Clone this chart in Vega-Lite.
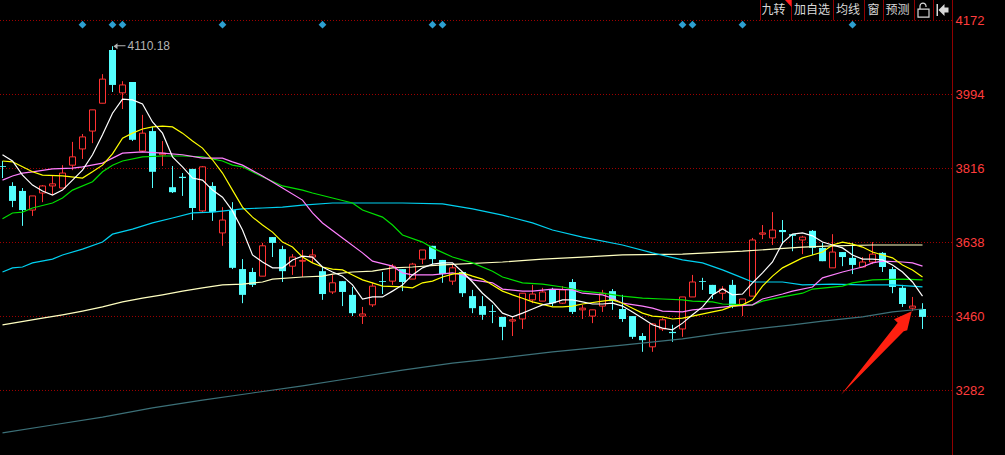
{"$schema":"https://vega.github.io/schema/vega-lite/v6.json","width":1005,"height":455,"padding":0,"autosize":"none","background":"#000000","config":{"view":{"stroke":null},"font":"Liberation Sans","scale":{"continuousPadding":0}},"resolve":{"axis":{"y":"independent"}},
"datasets":{
"candles":[{"i":0,"o":3822,"c":3820,"h":3834,"l":3793},{"i":1,"o":3774,"c":3738,"h":3783,"l":3723},{"i":2,"o":3762,"c":3716,"h":3769,"l":3678},{"i":3,"o":3716,"c":3750,"h":3750,"l":3702},{"i":4,"o":3757,"c":3774,"h":3776,"l":3735},{"i":5,"o":3774,"c":3779,"h":3798,"l":3752},{"i":6,"o":3769,"c":3805,"h":3824,"l":3769},{"i":7,"o":3824,"c":3844,"h":3880,"l":3812},{"i":8,"o":3863,"c":3892,"h":3899,"l":3839},{"i":9,"o":3906,"c":3957,"h":3957,"l":3877},{"i":10,"o":3973,"c":4031,"h":4043,"l":3973},{"i":11,"o":4101,"c":4017,"h":4110.18,"l":4000},{"i":12,"o":3998,"c":4017,"h":4026,"l":3959},{"i":13,"o":4024,"c":3885,"h":4024,"l":3882},{"i":14,"o":3858,"c":3901,"h":3945,"l":3856},{"i":15,"o":3906,"c":3808,"h":3916,"l":3769},{"i":16,"o":3849,"c":3853,"h":3882,"l":3822},{"i":17,"o":3771,"c":3759,"h":3822,"l":3757},{"i":18,"o":3796,"c":3793,"h":3805,"l":3750},{"i":19,"o":3815,"c":3721,"h":3815,"l":3692},{"i":20,"o":3714,"c":3820,"h":3822,"l":3711},{"i":21,"o":3774,"c":3711,"h":3783,"l":3690},{"i":22,"o":3661,"c":3692,"h":3723,"l":3630},{"i":23,"o":3716,"c":3577,"h":3735,"l":3574},{"i":24,"o":3574,"c":3512,"h":3598,"l":3492},{"i":25,"o":3567,"c":3536,"h":3577,"l":3531},{"i":26,"o":3557,"c":3630,"h":3637,"l":3557},{"i":27,"o":3651,"c":3637,"h":3651,"l":3603},{"i":28,"o":3622,"c":3569,"h":3630,"l":3543},{"i":29,"o":3581,"c":3603,"h":3610,"l":3560},{"i":30,"o":3593,"c":3595,"h":3620,"l":3555},{"i":31,"o":3603,"c":3608,"h":3622,"l":3589},{"i":32,"o":3569,"c":3514,"h":3579,"l":3500},{"i":33,"o":3519,"c":3541,"h":3560,"l":3514},{"i":34,"o":3545,"c":3519,"h":3545,"l":3485},{"i":35,"o":3512,"c":3468,"h":3531,"l":3461},{"i":36,"o":3461,"c":3466,"h":3483,"l":3442},{"i":37,"o":3488,"c":3533,"h":3541,"l":3483},{"i":38,"o":3545,"c":3543,"h":3567,"l":3514},{"i":39,"o":3545,"c":3581,"h":3586,"l":3536},{"i":40,"o":3574,"c":3543,"h":3574,"l":3521},{"i":41,"o":3550,"c":3586,"h":3589,"l":3550},{"i":42,"o":3598,"c":3620,"h":3620,"l":3586},{"i":43,"o":3630,"c":3598,"h":3630,"l":3586},{"i":44,"o":3596,"c":3562,"h":3596,"l":3541},{"i":45,"o":3545,"c":3577,"h":3586,"l":3536},{"i":46,"o":3567,"c":3516,"h":3567,"l":3507},{"i":47,"o":3509,"c":3480,"h":3524,"l":3468},{"i":48,"o":3485,"c":3464,"h":3509,"l":3452},{"i":49,"o":3473,"c":3471,"h":3488,"l":3444},{"i":50,"o":3459,"c":3435,"h":3459,"l":3403},{"i":51,"o":3449,"c":3452,"h":3461,"l":3413},{"i":52,"o":3454,"c":3516,"h":3516,"l":3430},{"i":53,"o":3500,"c":3514,"h":3536,"l":3492},{"i":54,"o":3497,"c":3519,"h":3529,"l":3497},{"i":55,"o":3526,"c":3492,"h":3529,"l":3485},{"i":56,"o":3492,"c":3524,"h":3533,"l":3490},{"i":57,"o":3543,"c":3471,"h":3550,"l":3466},{"i":58,"o":3476,"c":3480,"h":3488,"l":3454},{"i":59,"o":3461,"c":3476,"h":3476,"l":3444},{"i":60,"o":3485,"c":3516,"h":3524,"l":3471},{"i":61,"o":3521,"c":3497,"h":3526,"l":3476},{"i":62,"o":3478,"c":3454,"h":3512,"l":3447},{"i":63,"o":3461,"c":3411,"h":3461,"l":3406},{"i":64,"o":3413,"c":3403,"h":3420,"l":3375},{"i":65,"o":3387,"c":3442,"h":3444,"l":3375},{"i":66,"o":3430,"c":3452,"h":3456,"l":3425},{"i":67,"o":3423,"c":3420,"h":3440,"l":3399},{"i":68,"o":3430,"c":3507,"h":3507,"l":3411},{"i":69,"o":3507,"c":3543,"h":3560,"l":3507},{"i":70,"o":3545,"c":3543,"h":3553,"l":3524},{"i":71,"o":3536,"c":3514,"h":3536,"l":3502},{"i":72,"o":3516,"c":3526,"h":3533,"l":3500},{"i":73,"o":3536,"c":3485,"h":3548,"l":3480},{"i":74,"o":3488,"c":3502,"h":3502,"l":3461},{"i":75,"o":3509,"c":3644,"h":3649,"l":3509},{"i":76,"o":3658,"c":3661,"h":3680,"l":3646},{"i":77,"o":3649,"c":3668,"h":3711,"l":3632},{"i":78,"o":3668,"c":3663,"h":3692,"l":3634},{"i":79,"o":3658,"c":3654,"h":3658,"l":3617},{"i":80,"o":3644,"c":3651,"h":3654,"l":3610},{"i":81,"o":3666,"c":3625,"h":3668,"l":3608},{"i":82,"o":3625,"c":3593,"h":3637,"l":3593},{"i":83,"o":3577,"c":3615,"h":3658,"l":3577},{"i":84,"o":3615,"c":3603,"h":3615,"l":3581},{"i":85,"o":3601,"c":3584,"h":3637,"l":3562},{"i":86,"o":3579,"c":3591,"h":3603,"l":3579},{"i":87,"o":3591,"c":3610,"h":3639,"l":3586},{"i":88,"o":3613,"c":3579,"h":3615,"l":3567},{"i":89,"o":3574,"c":3531,"h":3579,"l":3516},{"i":90,"o":3529,"c":3490,"h":3536,"l":3483},{"i":91,"o":3480,"c":3485,"h":3507,"l":3473},{"i":92,"o":3478,"c":3459,"h":3492,"l":3430}],
"ma5":[{"i":0,"p":3849},{"i":1,"p":3834},{"i":2,"p":3800},{"i":3,"p":3776},{"i":4,"p":3762},{"i":5,"p":3752},{"i":6,"p":3764},{"i":7,"p":3788},{"i":8,"p":3812},{"i":9,"p":3849},{"i":10,"p":3897},{"i":11,"p":3949},{"i":12,"p":3983},{"i":13,"p":3981},{"i":14,"p":3971},{"i":15,"p":3928},{"i":16,"p":3901},{"i":17,"p":3844},{"i":18,"p":3820},{"i":19,"p":3793},{"i":20,"p":3788},{"i":21,"p":3764},{"i":22,"p":3747},{"i":23,"p":3714},{"i":24,"p":3668},{"i":25,"p":3608},{"i":26,"p":3591},{"i":27,"p":3577},{"i":28,"p":3577},{"i":29,"p":3596},{"i":30,"p":3605},{"i":31,"p":3603},{"i":32,"p":3579},{"i":33,"p":3567},{"i":34,"p":3557},{"i":35,"p":3536},{"i":36,"p":3502},{"i":37,"p":3507},{"i":38,"p":3507},{"i":39,"p":3521},{"i":40,"p":3536},{"i":41,"p":3560},{"i":42,"p":3577},{"i":43,"p":3586},{"i":44,"p":3589},{"i":45,"p":3589},{"i":46,"p":3567},{"i":47,"p":3543},{"i":48,"p":3516},{"i":49,"p":3495},{"i":50,"p":3468},{"i":51,"p":3459},{"i":52,"p":3468},{"i":53,"p":3478},{"i":54,"p":3488},{"i":55,"p":3492},{"i":56,"p":3500},{"i":57,"p":3500},{"i":58,"p":3495},{"i":59,"p":3490},{"i":60,"p":3490},{"i":61,"p":3492},{"i":62,"p":3485},{"i":63,"p":3471},{"i":64,"p":3456},{"i":65,"p":3440},{"i":66,"p":3432},{"i":67,"p":3428},{"i":68,"p":3444},{"i":69,"p":3464},{"i":70,"p":3483},{"i":71,"p":3512},{"i":72,"p":3526},{"i":73,"p":3512},{"i":74,"p":3514},{"i":75,"p":3541},{"i":76,"p":3565},{"i":77,"p":3591},{"i":78,"p":3637},{"i":79,"p":3658},{"i":80,"p":3661},{"i":81,"p":3654},{"i":82,"p":3639},{"i":83,"p":3632},{"i":84,"p":3625},{"i":85,"p":3608},{"i":86,"p":3598},{"i":87,"p":3598},{"i":88,"p":3596},{"i":89,"p":3584},{"i":90,"p":3567},{"i":91,"p":3543},{"i":92,"p":3509}],
"ma10":[{"i":0,"p":3834},{"i":1,"p":3832},{"i":2,"p":3820},{"i":3,"p":3808},{"i":4,"p":3800},{"i":6,"p":3798},{"i":8,"p":3793},{"i":9,"p":3808},{"i":10,"p":3824},{"i":11,"p":3851},{"i":12,"p":3889},{"i":13,"p":3901},{"i":14,"p":3911},{"i":15,"p":3916},{"i":16,"p":3918},{"i":17,"p":3916},{"i":18,"p":3901},{"i":19,"p":3882},{"i":20,"p":3865},{"i":21,"p":3837},{"i":22,"p":3805},{"i":23,"p":3764},{"i":24,"p":3723},{"i":25,"p":3699},{"i":26,"p":3680},{"i":27,"p":3663},{"i":28,"p":3639},{"i":29,"p":3627},{"i":30,"p":3603},{"i":31,"p":3589},{"i":32,"p":3579},{"i":33,"p":3574},{"i":34,"p":3572},{"i":35,"p":3560},{"i":36,"p":3548},{"i":37,"p":3541},{"i":38,"p":3533},{"i":40,"p":3531},{"i":41,"p":3529},{"i":42,"p":3541},{"i":43,"p":3545},{"i":44,"p":3555},{"i":45,"p":3562},{"i":46,"p":3565},{"i":47,"p":3557},{"i":48,"p":3550},{"i":49,"p":3536},{"i":50,"p":3521},{"i":51,"p":3512},{"i":52,"p":3504},{"i":53,"p":3495},{"i":55,"p":3483},{"i":56,"p":3483},{"i":57,"p":3485},{"i":58,"p":3490},{"i":60,"p":3497},{"i":61,"p":3500},{"i":62,"p":3492},{"i":63,"p":3480},{"i":64,"p":3468},{"i":65,"p":3461},{"i":66,"p":3459},{"i":67,"p":3454},{"i":68,"p":3456},{"i":69,"p":3461},{"i":71,"p":3471},{"i":72,"p":3476},{"i":73,"p":3485},{"i":74,"p":3488},{"i":75,"p":3500},{"i":76,"p":3533},{"i":77,"p":3557},{"i":78,"p":3577},{"i":79,"p":3589},{"i":80,"p":3601},{"i":81,"p":3608},{"i":82,"p":3615},{"i":83,"p":3632},{"i":84,"p":3639},{"i":85,"p":3634},{"i":86,"p":3627},{"i":87,"p":3615},{"i":88,"p":3608},{"i":89,"p":3601},{"i":90,"p":3584},{"i":91,"p":3572},{"i":92,"p":3555}],
"ma20":[{"i":0,"p":3788},{"i":1,"p":3798},{"i":2,"p":3805},{"i":3,"p":3808},{"i":5,"p":3815},{"i":7,"p":3817},{"i":8,"p":3820},{"i":10,"p":3829},{"i":11,"p":3841},{"i":12,"p":3853},{"i":14,"p":3856},{"i":16,"p":3853},{"i":18,"p":3849},{"i":20,"p":3841},{"i":22,"p":3841},{"i":23,"p":3832},{"i":24,"p":3824},{"i":26,"p":3798},{"i":28,"p":3769},{"i":30,"p":3740},{"i":31,"p":3709},{"i":32,"p":3685},{"i":34,"p":3649},{"i":36,"p":3613},{"i":37,"p":3593},{"i":39,"p":3581},{"i":40,"p":3565},{"i":41,"p":3560},{"i":43,"p":3560},{"i":45,"p":3565},{"i":46,"p":3560},{"i":47,"p":3548},{"i":49,"p":3541},{"i":50,"p":3526},{"i":52,"p":3521},{"i":53,"p":3521},{"i":55,"p":3526},{"i":57,"p":3524},{"i":58,"p":3516},{"i":60,"p":3512},{"i":61,"p":3504},{"i":62,"p":3492},{"i":64,"p":3485},{"i":65,"p":3480},{"i":66,"p":3473},{"i":68,"p":3471},{"i":69,"p":3476},{"i":71,"p":3480},{"i":73,"p":3485},{"i":75,"p":3488},{"i":76,"p":3502},{"i":78,"p":3514},{"i":79,"p":3521},{"i":81,"p":3531},{"i":82,"p":3553},{"i":84,"p":3567},{"i":86,"p":3579},{"i":87,"p":3589},{"i":88,"p":3593},{"i":90,"p":3591},{"i":91,"p":3589},{"i":92,"p":3581}],
"ma30":[{"i":0,"p":3695},{"i":1,"p":3709},{"i":2,"p":3711},{"i":3,"p":3721},{"i":5,"p":3733},{"i":6,"p":3745},{"i":7,"p":3764},{"i":9,"p":3784},{"i":10,"p":3808},{"i":11,"p":3824},{"i":12,"p":3834},{"i":14,"p":3844},{"i":16,"p":3846},{"i":18,"p":3846},{"i":20,"p":3844},{"i":22,"p":3834},{"i":23,"p":3824},{"i":24,"p":3820},{"i":26,"p":3796},{"i":28,"p":3774},{"i":30,"p":3764},{"i":31,"p":3757},{"i":33,"p":3745},{"i":35,"p":3733},{"i":36,"p":3716},{"i":38,"p":3699},{"i":39,"p":3680},{"i":40,"p":3656},{"i":42,"p":3639},{"i":43,"p":3625},{"i":45,"p":3603},{"i":47,"p":3589},{"i":49,"p":3569},{"i":50,"p":3555},{"i":52,"p":3541},{"i":54,"p":3538},{"i":56,"p":3531},{"i":58,"p":3521},{"i":60,"p":3516},{"i":62,"p":3509},{"i":64,"p":3504},{"i":66,"p":3502},{"i":68,"p":3500},{"i":69,"p":3497},{"i":71,"p":3495},{"i":72,"p":3490},{"i":75,"p":3488},{"i":76,"p":3497},{"i":78,"p":3507},{"i":80,"p":3516},{"i":81,"p":3526},{"i":84,"p":3533},{"i":85,"p":3541},{"i":87,"p":3548},{"i":90,"p":3550},{"i":92,"p":3548}],
"ma60":[{"i":0,"p":3567},{"i":1,"p":3577},{"i":2,"p":3579},{"i":3,"p":3589},{"i":5,"p":3598},{"i":6,"p":3608},{"i":8,"p":3622},{"i":10,"p":3639},{"i":11,"p":3658},{"i":13,"p":3670},{"i":15,"p":3685},{"i":17,"p":3697},{"i":19,"p":3709},{"i":21,"p":3711},{"i":24,"p":3719},{"i":26,"p":3721},{"i":28,"p":3723},{"i":30,"p":3728},{"i":33,"p":3733},{"i":40,"p":3733},{"i":44,"p":3731},{"i":47,"p":3719},{"i":50,"p":3704},{"i":53,"p":3685},{"i":55,"p":3668},{"i":58,"p":3651},{"i":62,"p":3632},{"i":65,"p":3613},{"i":68,"p":3596},{"i":70,"p":3589},{"i":72,"p":3572},{"i":74,"p":3553},{"i":75,"p":3543},{"i":78,"p":3543},{"i":80,"p":3536},{"i":83,"p":3538},{"i":86,"p":3536},{"i":89,"p":3536},{"i":92,"p":3531}],
"ma120":[{"i":0,"p":3440},{"i":4,"p":3456},{"i":6,"p":3464},{"i":8,"p":3473},{"i":10,"p":3483},{"i":12,"p":3495},{"i":14,"p":3504},{"i":16,"p":3512},{"i":18,"p":3521},{"i":20,"p":3529},{"i":22,"p":3536},{"i":24,"p":3538},{"i":26,"p":3543},{"i":27,"p":3550},{"i":30,"p":3555},{"i":32,"p":3557},{"i":33,"p":3562},{"i":35,"p":3567},{"i":37,"p":3569},{"i":39,"p":3577},{"i":41,"p":3579},{"i":44,"p":3584},{"i":50,"p":3591},{"i":54,"p":3598},{"i":58,"p":3603},{"i":62,"p":3608},{"i":68,"p":3610},{"i":72,"p":3615},{"i":74,"p":3617},{"i":77,"p":3622},{"i":80,"p":3627},{"i":83,"p":3630},{"i":87,"p":3632},{"i":92,"p":3632}],
"ma250":[{"i":0,"p":3180},{"i":5,"p":3199},{"i":10,"p":3218},{"i":15,"p":3240},{"i":20,"p":3259},{"i":25,"p":3276},{"i":30,"p":3293},{"i":35,"p":3312},{"i":40,"p":3331},{"i":45,"p":3348},{"i":49,"p":3358},{"i":55,"p":3375},{"i":62,"p":3391},{"i":68,"p":3406},{"i":72,"p":3420},{"i":76,"p":3432},{"i":79,"p":3440},{"i":82,"p":3449},{"i":86,"p":3459},{"i":89,"p":3471},{"i":92,"p":3478}]
},
"layer":[
{"data":{"values":[{"p":4172},{"p":3994},{"p":3816},{"p":3638},{"p":3460},{"p":3282}]},"mark":{"type":"rule","color":"#a00000","strokeWidth":1,"strokeDash":[1,2]},"encoding":{"x":{"datum":-0.25,"type":"quantitative","scale":{"domain":[-0.25,100.25],"nice":false,"zero":false},"axis":null},"x2":{"datum":95},"y":{"field":"p","type":"quantitative","scale":{"domain":[3126.8,4221.3],"nice":false,"zero":false},"axis":{"orient":"right","offset":-52,"values":[4172,3994,3816,3638,3460,3282],"format":"d","domain":false,"ticks":false,"grid":false,"title":null,"labelColor":"#ff3c3c","labelFont":"Liberation Sans","labelFontSize":13,"labelPadding":2,"labelAlign":"left"}}}},
{"data":{"values":[{"axis":"price"}]},"mark":{"type":"rule","color":"#900000","strokeWidth":1},"encoding":{"x":{"datum":95,"type":"quantitative","scale":{"domain":[-0.25,100.25],"nice":false,"zero":false},"axis":null}}},
{"data":{"name":"candles"},"transform":[{"filter":"datum.c > datum.o"}],"mark":{"type":"rule","color":"#ff3232","strokeWidth":1},"encoding":{"x":{"field":"i","type":"quantitative","scale":{"domain":[-0.25,100.25],"nice":false,"zero":false},"axis":null},"y":{"field":"l","type":"quantitative","scale":{"domain":[3126.8,4221.3],"nice":false,"zero":false},"axis":null},"y2":{"field":"h"}}},
{"data":{"name":"candles"},"transform":[{"filter":"datum.c <= datum.o"}],"mark":{"type":"rule","color":"#54ffff","strokeWidth":1},"encoding":{"x":{"field":"i","type":"quantitative","scale":{"domain":[-0.25,100.25],"nice":false,"zero":false},"axis":null},"y":{"field":"l","type":"quantitative","scale":{"domain":[3126.8,4221.3],"nice":false,"zero":false},"axis":null},"y2":{"field":"h"}}},
{"data":{"name":"candles"},"transform":[{"filter":"datum.c > datum.o"}],"mark":{"type":"bar","orient":"vertical","size":6,"fill":"#000000","stroke":"#ff3232","strokeWidth":1},"encoding":{"x":{"field":"i","type":"quantitative","scale":{"domain":[-0.25,100.25],"nice":false,"zero":false},"axis":null},"y":{"field":"o","type":"quantitative","scale":{"domain":[3126.8,4221.3],"nice":false,"zero":false},"axis":null},"y2":{"field":"c"}}},
{"data":{"name":"candles"},"transform":[{"filter":"datum.c <= datum.o"}],"mark":{"type":"bar","orient":"vertical","size":7,"fill":"#54ffff"},"encoding":{"x":{"field":"i","type":"quantitative","scale":{"domain":[-0.25,100.25],"nice":false,"zero":false},"axis":null},"y":{"field":"o","type":"quantitative","scale":{"domain":[3126.8,4221.3],"nice":false,"zero":false},"axis":null},"y2":{"field":"c"}}},
{"data":{"name":"ma250"},"mark":{"type":"line","color":"#3c7078","strokeWidth":1.2},"encoding":{"x":{"field":"i","type":"quantitative","scale":{"domain":[-0.25,100.25],"nice":false,"zero":false},"axis":null},"y":{"field":"p","type":"quantitative","scale":{"domain":[3126.8,4221.3],"nice":false,"zero":false},"axis":null}}},
{"data":{"name":"ma120"},"mark":{"type":"line","color":"#ffffc0","strokeWidth":1.2},"encoding":{"x":{"field":"i","type":"quantitative","scale":{"domain":[-0.25,100.25],"nice":false,"zero":false},"axis":null},"y":{"field":"p","type":"quantitative","scale":{"domain":[3126.8,4221.3],"nice":false,"zero":false},"axis":null}}},
{"data":{"name":"ma60"},"mark":{"type":"line","color":"#00d0f0","strokeWidth":1.2},"encoding":{"x":{"field":"i","type":"quantitative","scale":{"domain":[-0.25,100.25],"nice":false,"zero":false},"axis":null},"y":{"field":"p","type":"quantitative","scale":{"domain":[3126.8,4221.3],"nice":false,"zero":false},"axis":null}}},
{"data":{"name":"ma30"},"mark":{"type":"line","color":"#00e000","strokeWidth":1.2},"encoding":{"x":{"field":"i","type":"quantitative","scale":{"domain":[-0.25,100.25],"nice":false,"zero":false},"axis":null},"y":{"field":"p","type":"quantitative","scale":{"domain":[3126.8,4221.3],"nice":false,"zero":false},"axis":null}}},
{"data":{"name":"ma20"},"mark":{"type":"line","color":"#ff80ff","strokeWidth":1.2},"encoding":{"x":{"field":"i","type":"quantitative","scale":{"domain":[-0.25,100.25],"nice":false,"zero":false},"axis":null},"y":{"field":"p","type":"quantitative","scale":{"domain":[3126.8,4221.3],"nice":false,"zero":false},"axis":null}}},
{"data":{"name":"ma10"},"mark":{"type":"line","color":"#ffff00","strokeWidth":1.2},"encoding":{"x":{"field":"i","type":"quantitative","scale":{"domain":[-0.25,100.25],"nice":false,"zero":false},"axis":null},"y":{"field":"p","type":"quantitative","scale":{"domain":[3126.8,4221.3],"nice":false,"zero":false},"axis":null}}},
{"data":{"name":"ma5"},"mark":{"type":"line","color":"#ffffff","strokeWidth":1.2},"encoding":{"x":{"field":"i","type":"quantitative","scale":{"domain":[-0.25,100.25],"nice":false,"zero":false},"axis":null},"y":{"field":"p","type":"quantitative","scale":{"domain":[3126.8,4221.3],"nice":false,"zero":false},"axis":null}}},
{"data":{"values":[{"i":8,"p":4162},{"i":11,"p":4162},{"i":12,"p":4162},{"i":22,"p":4162},{"i":32,"p":4162},{"i":43,"p":4162},{"i":44,"p":4162},{"i":68,"p":4162},{"i":69,"p":4162},{"i":74,"p":4162},{"i":85,"p":4162}]},"mark":{"type":"point","shape":"diamond","filled":true,"size":60,"opacity":1,"fill":"#2d9fd0","stroke":null},"encoding":{"x":{"field":"i","type":"quantitative","scale":{"domain":[-0.25,100.25],"nice":false,"zero":false},"axis":null},"y":{"field":"p","type":"quantitative","scale":{"domain":[3126.8,4221.3],"nice":false,"zero":false},"axis":null}}},
{"data":{"values":[{"i":11,"p":4110.18,"label":"4110.18"}]},"mark":{"type":"text","align":"left","baseline":"middle","dx":15,"font":"Liberation Sans","fontSize":12,"color":"#b4b4b4"},"encoding":{"x":{"field":"i","type":"quantitative","scale":{"domain":[-0.25,100.25],"nice":false,"zero":false},"axis":null},"y":{"field":"p","type":"quantitative","scale":{"domain":[3126.8,4221.3],"nice":false,"zero":false},"axis":null},"text":{"field":"label"}}},
{"data":{"values":[{"i":11,"p":4110.18}]},"mark":{"type":"point","shape":"M1 0L5 -3L5 -1L13 -1L13 0L5 0L5 3Z","filled":true,"size":4,"opacity":1,"fill":"#b4b4b4","stroke":null},"encoding":{"x":{"field":"i","type":"quantitative","scale":{"domain":[-0.25,100.25],"nice":false,"zero":false},"axis":null},"y":{"field":"p","type":"quantitative","scale":{"domain":[3126.8,4221.3],"nice":false,"zero":false},"axis":null}}},
{"data":{"values":[{"i":75.8},{"i":78.9},{"i":83.1},{"i":86.2},{"i":88.1},{"i":91.2},{"i":93.1}]},"mark":{"type":"rule","color":"#900000","strokeWidth":1},"encoding":{"x":{"field":"i","type":"quantitative","scale":{"domain":[-0.25,100.25],"nice":false,"zero":false},"axis":null},"y":{"datum":4172,"type":"quantitative","scale":{"domain":[3126.8,4221.3],"nice":false,"zero":false},"axis":null},"y2":{"datum":4221.3}}},
{"data":{"values":[{"i":77.1,"p":4197,"label":"九转"},{"i":80.95,"p":4197,"label":"加自选"},{"i":84.55,"p":4197,"label":"均线"},{"i":87.1,"p":4197,"label":"窗"},{"i":89.5,"p":4197,"label":"预测"}]},"mark":{"type":"text","align":"center","baseline":"middle","font":"Noto Sans CJK SC","fontSize":12,"color":"#d8d8d8"},"encoding":{"x":{"field":"i","type":"quantitative","scale":{"domain":[-0.25,100.25],"nice":false,"zero":false},"axis":null},"y":{"field":"p","type":"quantitative","scale":{"domain":[3126.8,4221.3],"nice":false,"zero":false},"axis":null},"text":{"field":"label"}}},
{"data":{"values":[{"i":92.1,"p":4197}]},"mark":{"type":"point","shape":"M-5.5 -1H5.5V7H-5.5Z M-3.5 -1V-4A3 3 0 0 1 2.5 -4V-3","filled":false,"size":4,"opacity":1,"stroke":"#d8d8d8","strokeWidth":1.2},"encoding":{"x":{"field":"i","type":"quantitative","scale":{"domain":[-0.25,100.25],"nice":false,"zero":false},"axis":null},"y":{"field":"p","type":"quantitative","scale":{"domain":[3126.8,4221.3],"nice":false,"zero":false},"axis":null}}},
{"data":{"values":[{"i":94,"p":4197}]},"mark":{"type":"point","shape":"M-6 -6H-4.5V6H-6Z M-4 0L2 -6V-2.5H6V2.5H2V6Z","filled":true,"size":4,"opacity":1,"fill":"#d8d8d8","stroke":null},"encoding":{"x":{"field":"i","type":"quantitative","scale":{"domain":[-0.25,100.25],"nice":false,"zero":false},"axis":null},"y":{"field":"p","type":"quantitative","scale":{"domain":[3126.8,4221.3],"nice":false,"zero":false},"axis":null}}},
{"data":{"values":[{"i":78.9,"p":4221.3}]},"mark":{"type":"point","shape":"M0 0H-6.5L0 7Z","filled":true,"size":4,"opacity":1,"fill":"#ff2020","stroke":null},"encoding":{"x":{"field":"i","type":"quantitative","scale":{"domain":[-0.25,100.25],"nice":false,"zero":false},"axis":null},"y":{"field":"p","type":"quantitative","scale":{"domain":[3126.8,4221.3],"nice":false,"zero":false},"axis":null}}},
{"data":{"values":[{"i":90.92,"p":3472.8}]},"mark":{"type":"point","shape":"M0 0L-17.7 8L-14 11.5L-70.7 83.5L-8 20L-4.5 19Z","filled":true,"size":4,"opacity":1,"fill":"#ff2010","stroke":null},"encoding":{"x":{"field":"i","type":"quantitative","scale":{"domain":[-0.25,100.25],"nice":false,"zero":false},"axis":null},"y":{"field":"p","type":"quantitative","scale":{"domain":[3126.8,4221.3],"nice":false,"zero":false},"axis":null}}}
]}
